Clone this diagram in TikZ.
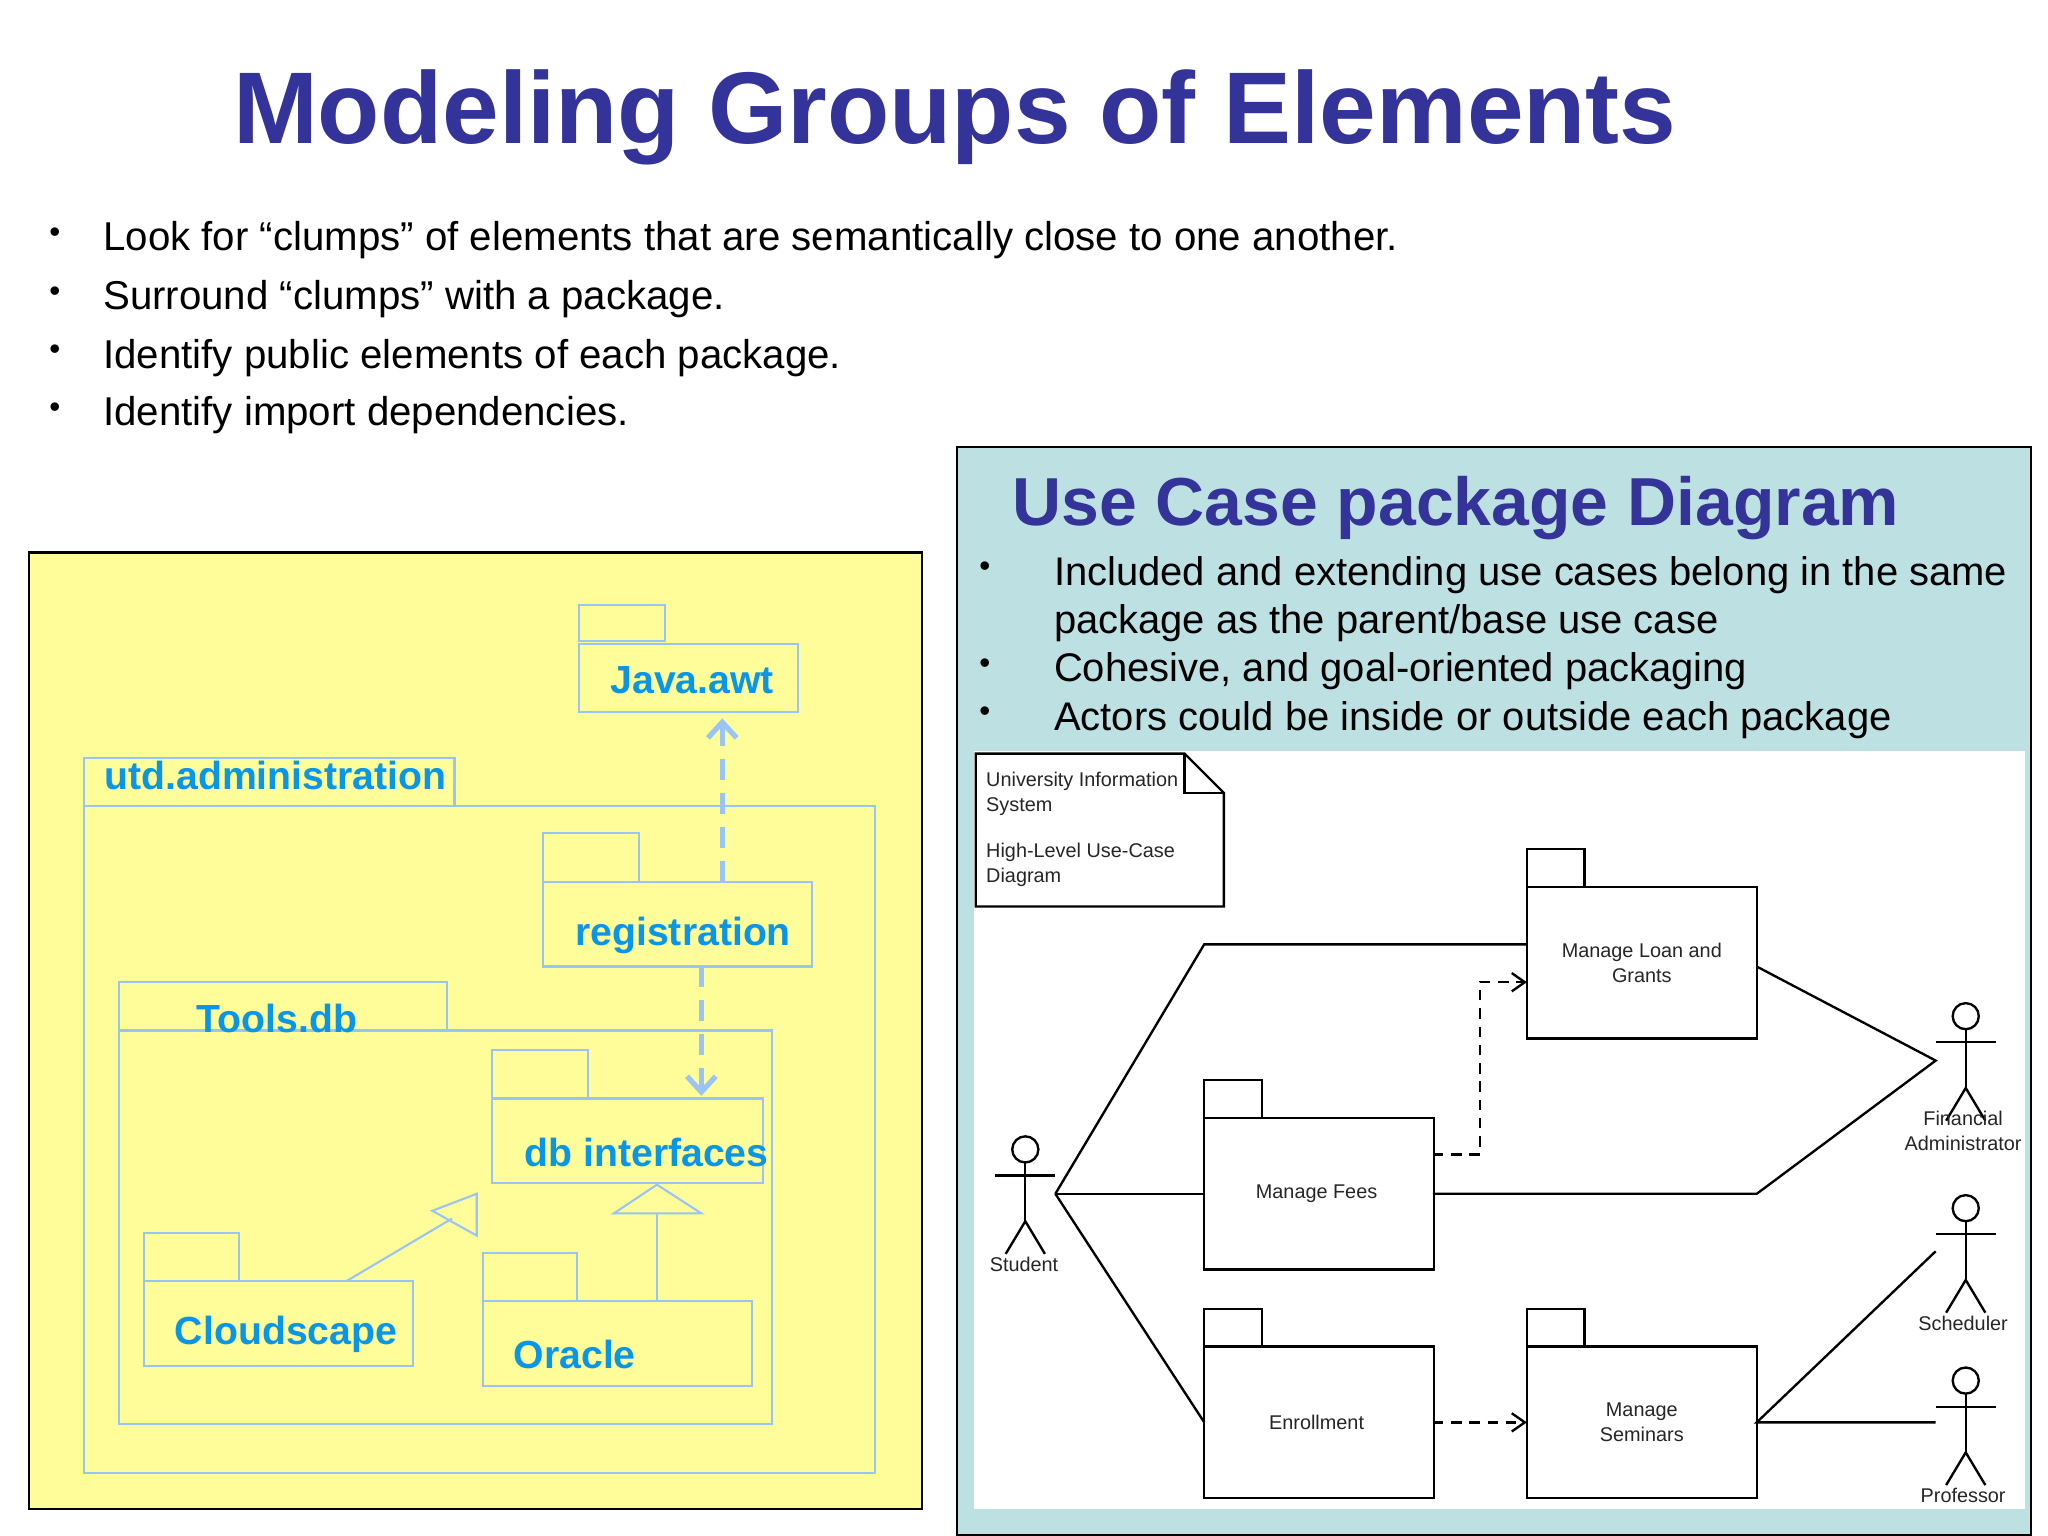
\documentclass[tikz,border=0pt]{standalone}
\usepackage{fontspec}
\setmainfont{Liberation Sans}
\usetikzlibrary{arrows.meta}
\definecolor{ttl}{HTML}{333399}
\definecolor{lb}{HTML}{99C4F5}
\definecolor{tb}{HTML}{0A96E8}
\definecolor{yel}{HTML}{FFFD99}
\definecolor{cyan2}{HTML}{BDE0E3}
\begin{document}
\begin{tikzpicture}[x=0.5pt,y=-0.5pt,
  pk/.style={draw=lb,line width=0.8pt},
  pt/.style={text=tb,font=\fontsize{15}{18}\selectfont\bfseries},
  bl/.style={anchor=west,font=\fontsize{15.4}{18}\selectfont},
  br/.style={anchor=west,font=\fontsize{15.3}{18}\selectfont},
  uk/.style={draw=black,line width=0.9pt},
  ut/.style={font=\fontsize{7.6}{9.5}\selectfont,align=center,text=black!85},
  ln/.style={line width=0.9pt},
  dsh/.style={line width=0.9pt,dash pattern=on 4pt off 3pt,-{Straight Barb[length=5pt,width=7pt]}}]
\useasboundingbox (0,0) rectangle (1568,1176);
\fill[white] (0,0) rectangle (1568,1176);
\node[text=ttl,font=\fontsize{39}{46}\selectfont\bfseries] (title) at (731,90) {Modeling Groups of Elements};
\foreach \y/\t [count=\i] in {181/{Look for “clumps” of elements that are semantically close to one another.},226/{Surround “clumps” with a package.},271/{Identify public elements of each package.},315/{Identify import dependencies.}}{
  \node[bl] (b\i) at (72,\y+3) {\t};
  \node[font=\fontsize{12}{14}\selectfont] (d\i) at (42,\y-1) {•};
}
% left panel
\draw[fill=yel,line width=0.8pt] (22,423) rectangle (706,1155);
\draw[pk] (443,463) rectangle (509,491); \draw[pk] (443,493) rectangle (611,545);
\node[pt] (jawt) at (530,521) {Java.awt};
\draw[pk] (64,580) rectangle (348,617); \draw[pk] (64,617) rectangle (670,1128);
\node[pt,anchor=west] (utd) at (73,594) {utd.administration};
\draw[pk] (416,638) rectangle (489,675); \draw[pk] (416,675) rectangle (622,740);
\node[pt] (reg) at (523,716) {registration};
\draw[pk] (91,752) rectangle (342,789); \draw[pk] (91,789) rectangle (591,1090);
\node[pt] (tools) at (212,780) {Tools.db};
\draw[pk] (377,804) rectangle (450,841); \draw[pk] (377,841) rectangle (584,906);
\node[pt] (dbi) at (495,882) {db interfaces};
\draw[pk] (110,944) rectangle (183,981); \draw[pk] (110,981) rectangle (316,1046);
\node[pt] (cs) at (219,1022) {Cloudscape};
\draw[pk] (370,959) rectangle (442,996); \draw[pk] (370,996) rectangle (576,1061);
\node[pt] (ora) at (440,1037) {Oracle};
\coordinate (rt) at (553,675); \coordinate (ja) at (553,550);
\draw[lb,line width=2pt,dash pattern=on 8pt off 5pt,-{Straight Barb[length=6pt,width=11pt]}] (rt) -- (ja);
\coordinate (rb) at (537,740); \coordinate (di) at (537,839);
\draw[lb,line width=2pt,dash pattern=on 8pt off 5pt,-{Straight Barb[length=6pt,width=11pt]}] (rb) -- (di);
\draw[pk] (265,981) -- (346,933);
\draw[pk] (331,927) -- (365,914) -- (365,946) -- cycle;
\draw[pk] (503,996) -- (503,929);
\draw[pk] (470,929) -- (537,929) -- (503,907) -- cycle;
% right panel
\draw[fill=cyan2,line width=0.8pt] (733,342) rectangle (1555,1175);
\node[text=ttl,font=\fontsize{26}{30}\selectfont\bfseries,anchor=west] (t2) at (768,389) {Use Case package Diagram};
\foreach \y/\t [count=\i] in {437/{Included and extending use cases belong in the same},511/{Cohesive, and goal-oriented packaging},548/{Actors could be inside or outside each package}}{
  \node[br] (c\i) at (800,\y+3) {\t};
  \node[font=\fontsize{12}{14}\selectfont] (e\i) at (754,\y-1) {•};
}
\node[br] (c1b) at (800,477) {package as the parent/base use case};
\fill[white] (746,575) rectangle (1550,1155);
\draw[uk] (747,577) -- (907,577) -- (937,607) -- (937,694) -- (747,694) -- cycle;
\draw[uk] (907,577) -- (907,607) -- (937,607);
\node[ut,anchor=north west,align=left] (note) at (748,584) {University Information\\System\\[1.1em]High-Level Use-Case\\Diagram};
\foreach \x/\y in {1169/650,922/827,922/1002,1169/1002}{
  \draw[uk] (\x,\y) rectangle (\x+44,\y+29);
  \draw[uk] (\x,\y+29) rectangle (\x+176,\y+145);
}
\node[ut] (loan) at (1257,737) {Manage Loan and\\Grants};
\node[ut] (fees) at (1008,914) {Manage Fees};
\node[ut] (enr) at (1008,1089) {Enrollment};
\node[ut] (sem) at (1257,1089) {Manage\\Seminars};
% actors
\newcommand\actor[2]{%
  \draw[ln] (#1,#2) circle (5pt);
  \draw[ln] (#1,#2+10) -- (#1,#2+55);
  \draw[ln] (#1-23,#2+20) -- (#1+23,#2+20);
  \draw[ln] (#1-15,#2+80) -- (#1,#2+55) -- (#1+15,#2+80);}
\actor{785}{880}\actor{1505}{778}\actor{1505}{925}\actor{1505}{1057}
\node[ut] (stud) at (784,968) {Student};
\node[ut] (fin) at (1503,866) {Financial\\Administrator};
\node[ut] (sch) at (1503,1013) {Scheduler};
\node[ut] (prof) at (1503,1145) {Professor};
\coordinate (sp) at (808,914);
\draw[ln] (sp) -- (922,723) -- (1169,723);
\draw[ln] (sp) -- (922,914);
\draw[ln] (sp) -- (922,1089);
\draw[ln] (1097,914) -- (1345,914) -- (1482,812) -- (1345,740);
\draw[dsh] (1097,884) -- (1133,884) -- (1133,752) -- (1169,752);
\draw[dsh] (1097,1089) -- (1169,1089);
\draw[ln] (1482,958) -- (1345,1089) -- (1482,1089);
\end{tikzpicture}
\end{document}
